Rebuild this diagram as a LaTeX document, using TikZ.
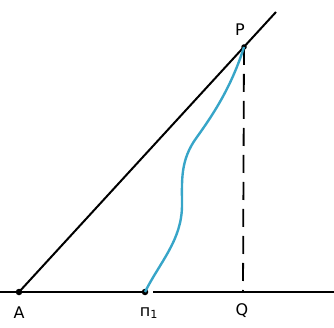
\documentclass[tikz,border=0pt]{standalone}
\usepackage{fontspec}
\setmainfont{DejaVu Sans}
\begin{document}
\begin{tikzpicture}[x=1pt,y=-1pt,
  blk/.style={line width=2pt,black},
  pt/.style={circle,fill=black,inner sep=0pt,minimum size=6.5pt},
  lbl/.style={font=\fontsize{16}{16}\selectfont,inner sep=0pt},
  curve/.style={line width=2.4pt,color={rgb,255:red,55;green,165;blue,200}},
  dsh/.style={line width=1.8pt,dash pattern=on 18pt off 9pt}]
\useasboundingbox (0,0) rectangle (334,328);
\coordinate (L) at (0,292);
\coordinate (R) at (334,292);
\coordinate (E) at (276,12);
\coordinate (G) at (153,292);
\node[pt] (A) at (19,292) {};
\node[pt] (N) at (145,292) {};
\node[pt,minimum size=5.5pt] (P) at (244,47) {};
\coordinate (Q) at (243,292);
\draw[blk] (L) -- (N.center);
\draw[blk] (G) -- (R);
\draw[blk] (A.center) -- (E);
\draw[dsh] (P.center) -- (Q);
\draw[curve] (N.center) .. controls (160,262) and (182,240) .. (182,205)
  .. controls (182,180) and (180,160) .. (197,137)
  .. controls (215,112) and (232,85) .. (P.center);
\node[lbl] (tA) at (19,313) {A};
\node[lbl] (tN) at (149,313) {п\textsubscript{1}};
\node[lbl] (tQ) at (242,311) {Q};
\node[lbl] (tP) at (240,30) {P};
\end{tikzpicture}
\end{document}
